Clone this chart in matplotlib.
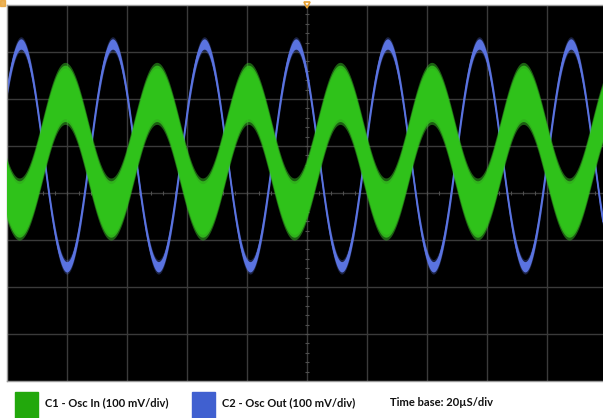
"""
Scope capture: oscillator input (C1) vs output (C2).
"""
import numpy as np
import matplotlib
matplotlib.use('Agg')
import matplotlib.pyplot as plt
from matplotlib.patches import Rectangle

# scope settings
TIME_PER_DIV_US = 20.0
VOLT_PER_DIV_MV = 100.0
N_VDIV = 8

# channel readings (mV / us), taken off the screen
C1_AMPL_MV = 123.0
C1_OFFSET_MV = 89.0
C1_PERIOD_US = 30.5
C1_PEAK_T_US = 19.5
C1_NOISE_MV = 60.0       # half-height of the noisy band

C2_AMPL_MV = 237.0
C2_OFFSET_MV = 80.0
C2_PERIOD_US = 30.5
C2_PEAK_T_US = 4.8
C2_NOISE_MV = 11.0

LEGEND_LABELS = ['C1 - Osc In (100 mV/div)', 'C2 - Osc Out (100 mV/div)']
TIMEBASE_LABEL = 'Time base: 20\u00b5S/div'

C1_COLOR = '#2fc21a'
C2_COLOR = '#5a73e0'

W, H = 603, 418
fig = plt.figure(figsize=(W / 100, H / 100), dpi=100)
fig.patch.set_facecolor('white')

x0, x1, y_top, y_bot = 6.5, 603, 5, 381
ax = fig.add_axes([x0 / W, 1 - y_bot / H, (x1 - x0) / W, (y_bot - y_top) / H])
ax.set_facecolor('black')
px_per_div = 60.1
t_max = (x1 - x0) / px_per_div * TIME_PER_DIV_US
ax.set_xlim(0, t_max)
ax.set_ylim(-N_VDIV / 2 * VOLT_PER_DIV_MV, N_VDIV / 2 * VOLT_PER_DIV_MV)

# graticule
for k in range(1, 11):
    ax.axvline(k * TIME_PER_DIV_US, color='#3a3a3a', lw=1.0, zorder=1)
for k in range(-3, 4):
    ax.axhline(k * VOLT_PER_DIV_MV, color='#3a3a3a', lw=1.0, zorder=1)
# minor ticks on the centre cross
t_center = 5 * TIME_PER_DIV_US
minor_t = np.arange(0, t_max, TIME_PER_DIV_US / 5)
minor_v = np.arange(-400, 401, VOLT_PER_DIV_MV / 5)
ax.plot(minor_t, np.zeros_like(minor_t), ls='none', marker='|', ms=3,
        color='#505050', mew=0.8, zorder=1)
ax.plot(np.full_like(minor_v, t_center), minor_v, ls='none', marker='_', ms=3,
        color='#505050', mew=0.8, zorder=1)

t = np.linspace(0, t_max, 4000)


def trace(ampl, offset, period, peak_t):
    return offset + ampl * np.cos(2 * np.pi * (t - peak_t) / period)


c2 = trace(C2_AMPL_MV, C2_OFFSET_MV, C2_PERIOD_US, C2_PEAK_T_US)
c1 = trace(C1_AMPL_MV, C1_OFFSET_MV, C1_PERIOD_US, C1_PEAK_T_US)

# C2: thin trace with slight glow
for scale, alpha in [(1.4, 0.3), (1.0, 1.0)]:
    ax.fill_between(t, c2 - C2_NOISE_MV * scale, c2 + C2_NOISE_MV * scale,
                    color=C2_COLOR, alpha=alpha, lw=0, zorder=2)
ax.plot(t, c2, color=C2_COLOR, lw=1.1, zorder=2)

# C1: wide noisy band, drawn on top
for scale, color, alpha in [(1.1, '#3fd42a', 0.45), (1.0, '#34c81e', 0.8),
                            (0.9, C1_COLOR, 1.0)]:
    ax.fill_between(t, c1 - C1_NOISE_MV * scale, c1 + C1_NOISE_MV * scale,
                    color=color, alpha=alpha, lw=0, zorder=3)

for s in ax.spines.values():
    s.set_color('#9a9a9a')
    s.set_linewidth(1.0)
ax.spines['right'].set_visible(False)
ax.set_xticks([])
ax.set_yticks([])

# trigger markers
ax.plot([t_center], [1.0], transform=ax.get_xaxis_transform(), marker='v',
        ms=5, mfc='none', mec='#e8a030', mew=1.2, clip_on=False, zorder=5)
fig.patches.append(Rectangle((0, 1 - 6 / H), 5 / W, 6 / H, transform=fig.transFigure,
                             color='#e8a030', alpha=0.8))

# legend strip
yl = 1 - 392 / H
fig.patches.append(Rectangle((15 / W, 0), 23 / W, yl, transform=fig.transFigure,
                             color='#22a80c'))
fig.patches.append(Rectangle((192 / W, 0), 23 / W, yl, transform=fig.transFigure,
                             color='#4060d0'))
ty = 1 - 403 / H
font = dict(fontsize=8, fontweight='bold', family=['Lato', 'DejaVu Sans'],
            color='#111111', va='center', ha='left')
fig.text(45 / W, ty, LEGEND_LABELS[0], **font)
fig.text(222 / W, ty, LEGEND_LABELS[1], **font)
fig.text(390 / W, ty, TIMEBASE_LABEL, **font)

fig.savefig('out.png', dpi=100)
